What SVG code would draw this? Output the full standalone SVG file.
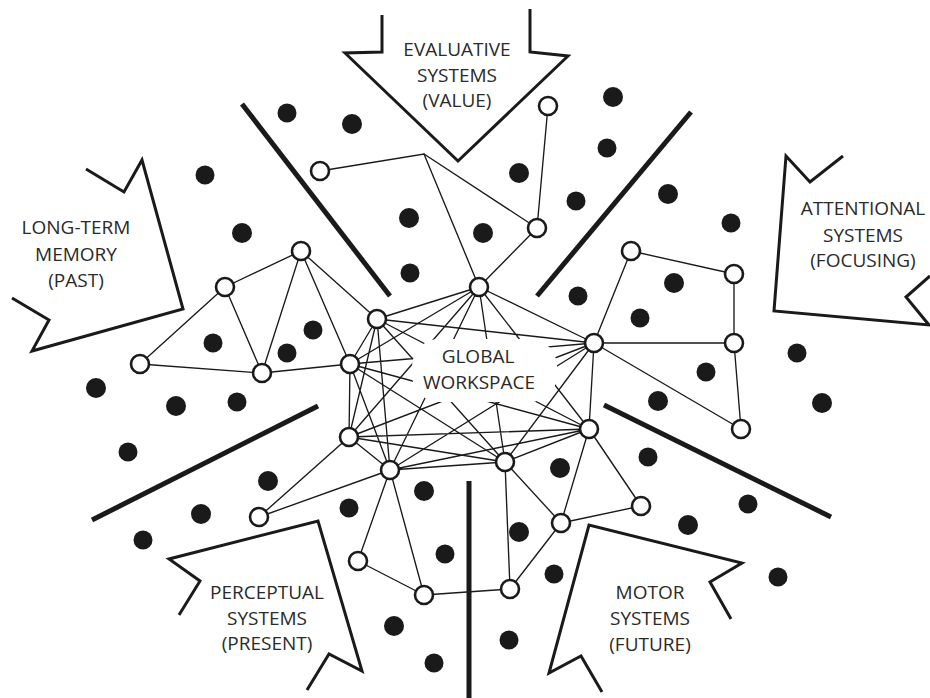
<svg xmlns="http://www.w3.org/2000/svg" width="930" height="698" viewBox="0 0 930 698">
<style>
.edge{stroke:#1a1a1a;stroke-width:1.35;fill:none;stroke-linecap:round}
.node{fill:#fff;stroke:#1a1a1a;stroke-width:2.6}
.dot{fill:#1a1a1a}
.arrow{fill:none;stroke:#1a1a1a;stroke-width:3;stroke-linejoin:miter;stroke-linecap:butt}
.bar{stroke:#1a1a1a;stroke-width:5;stroke-linecap:butt}
.lbl{font-family:"Open Sans","Noto Sans","Liberation Sans",sans-serif;font-size:19px;fill:#2a2a2a;text-anchor:middle}
</style>
<rect width="930" height="698" fill="#fff"/>
<g id="connectors">
<polyline class="edge" points="320,171 424,154 479,287"/>
<line class="edge" x1="424" y1="154" x2="537" y2="228"/>
<line class="edge" x1="548" y1="106" x2="537" y2="228"/>
<line class="edge" x1="537" y1="228" x2="479" y2="287"/>
<line class="edge" x1="140" y1="364" x2="225" y2="287"/>
<line class="edge" x1="225" y1="287" x2="301" y2="251"/>
<line class="edge" x1="225" y1="287" x2="262" y2="373"/>
<line class="edge" x1="140" y1="364" x2="262" y2="373"/>
<line class="edge" x1="262" y1="373" x2="301" y2="251"/>
<line class="edge" x1="262" y1="373" x2="350" y2="364"/>
<line class="edge" x1="301" y1="251" x2="377" y2="319"/>
<line class="edge" x1="301" y1="251" x2="350" y2="364"/>
<line class="edge" x1="594" y1="343" x2="631" y2="251"/>
<line class="edge" x1="631" y1="251" x2="734" y2="274"/>
<line class="edge" x1="734" y1="274" x2="734" y2="343"/>
<line class="edge" x1="594" y1="343" x2="734" y2="343"/>
<line class="edge" x1="734" y1="343" x2="741" y2="429"/>
<line class="edge" x1="594" y1="343" x2="741" y2="429"/>
<line class="edge" x1="259" y1="517" x2="349" y2="437"/>
<line class="edge" x1="259" y1="517" x2="390" y2="470"/>
<line class="edge" x1="390" y1="470" x2="358" y2="561"/>
<line class="edge" x1="358" y1="561" x2="424" y2="595"/>
<line class="edge" x1="390" y1="470" x2="424" y2="595"/>
<line class="edge" x1="424" y1="595" x2="510" y2="589"/>
<line class="edge" x1="510" y1="589" x2="505" y2="462"/>
<line class="edge" x1="510" y1="589" x2="561" y2="523"/>
<line class="edge" x1="505" y1="462" x2="561" y2="523"/>
<line class="edge" x1="561" y1="523" x2="589" y2="429"/>
<line class="edge" x1="561" y1="523" x2="641" y2="506"/>
<line class="edge" x1="641" y1="506" x2="589" y2="429"/>
<path class="edge" d="M479,287L377,319M479,287L350,364M479,287L594,343M479,287L349,437M479,287L390,470M479,287L505,462M479,287L589,429
M377,319L350,364M377,319L594,343M377,319L349,437M377,319L390,470M377,319L505,462M377,319L589,429
M350,364L594,343M350,364L349,437M350,364L390,470M350,364L505,462M350,364L589,429
M594,343L349,437M594,343L390,470M594,343L505,462M594,343L589,429
M349,437L390,470M349,437L505,462M349,437L589,429
M390,470L505,462M390,470L589,429
M505,462L589,429"/>
</g>
<rect id="workspace-gap" x="412" y="339" width="145" height="63" rx="27" fill="#fff"/>
<g id="hub-nodes">
<circle class="node" cx="548" cy="106" r="9"/>
<circle class="node" cx="320" cy="171" r="9"/>
<circle class="node" cx="537" cy="228" r="9"/>
<circle class="node" cx="479" cy="287" r="9"/>
<circle class="node" cx="301" cy="251" r="9"/>
<circle class="node" cx="225" cy="287" r="9"/>
<circle class="node" cx="140" cy="364" r="9"/>
<circle class="node" cx="262" cy="373" r="9"/>
<circle class="node" cx="377" cy="319" r="9"/>
<circle class="node" cx="350" cy="364" r="9"/>
<circle class="node" cx="631" cy="251" r="9"/>
<circle class="node" cx="734" cy="274" r="9"/>
<circle class="node" cx="594" cy="343" r="9"/>
<circle class="node" cx="734" cy="343" r="9"/>
<circle class="node" cx="741" cy="429" r="9"/>
<circle class="node" cx="589" cy="429" r="9"/>
<circle class="node" cx="349" cy="437" r="9"/>
<circle class="node" cx="390" cy="470" r="9"/>
<circle class="node" cx="505" cy="462" r="9"/>
<circle class="node" cx="259" cy="517" r="9"/>
<circle class="node" cx="358" cy="561" r="9"/>
<circle class="node" cx="424" cy="595" r="9"/>
<circle class="node" cx="510" cy="589" r="9"/>
<circle class="node" cx="561" cy="523" r="9"/>
<circle class="node" cx="641" cy="506" r="9"/>
</g>
<g id="dots">
<circle class="dot" cx="287" cy="113" r="9.5"/>
<circle class="dot" cx="352" cy="124" r="10"/>
<circle class="dot" cx="205" cy="175" r="9.5"/>
<circle class="dot" cx="242" cy="233" r="10"/>
<circle class="dot" cx="409" cy="218" r="10"/>
<circle class="dot" cx="483" cy="233" r="10"/>
<circle class="dot" cx="410" cy="273" r="9.5"/>
<circle class="dot" cx="519" cy="173" r="10"/>
<circle class="dot" cx="576" cy="201" r="9.5"/>
<circle class="dot" cx="613" cy="97" r="10"/>
<circle class="dot" cx="607" cy="148" r="9.5"/>
<circle class="dot" cx="668" cy="194" r="10"/>
<circle class="dot" cx="731" cy="223" r="9.5"/>
<circle class="dot" cx="578" cy="296" r="9.5"/>
<circle class="dot" cx="213" cy="343" r="9.5"/>
<circle class="dot" cx="313" cy="330" r="9.5"/>
<circle class="dot" cx="287" cy="353" r="9.5"/>
<circle class="dot" cx="96" cy="388" r="10"/>
<circle class="dot" cx="176" cy="406" r="10"/>
<circle class="dot" cx="237" cy="402" r="9.5"/>
<circle class="dot" cx="128" cy="452" r="9.5"/>
<circle class="dot" cx="268" cy="481" r="10"/>
<circle class="dot" cx="201" cy="514" r="10"/>
<circle class="dot" cx="143" cy="540" r="9.5"/>
<circle class="dot" cx="349" cy="508" r="9.5"/>
<circle class="dot" cx="424" cy="491" r="10"/>
<circle class="dot" cx="445" cy="554" r="9.5"/>
<circle class="dot" cx="394" cy="626" r="10"/>
<circle class="dot" cx="434" cy="663" r="9.5"/>
<circle class="dot" cx="509" cy="640" r="9.5"/>
<circle class="dot" cx="519" cy="532" r="10"/>
<circle class="dot" cx="554" cy="574" r="9.5"/>
<circle class="dot" cx="560" cy="468" r="10"/>
<circle class="dot" cx="674" cy="283" r="10"/>
<circle class="dot" cx="640" cy="318" r="9.5"/>
<circle class="dot" cx="706" cy="372" r="9.5"/>
<circle class="dot" cx="658" cy="401" r="10"/>
<circle class="dot" cx="797" cy="353" r="9.5"/>
<circle class="dot" cx="822" cy="403" r="10"/>
<circle class="dot" cx="648" cy="457" r="9.5"/>
<circle class="dot" cx="748" cy="504" r="9.5"/>
<circle class="dot" cx="688" cy="525" r="10"/>
<circle class="dot" cx="778" cy="577" r="9.5"/>
</g>
<g id="dividers">
<line class="bar" x1="242" y1="104" x2="390" y2="296"/>
<line class="bar" x1="537" y1="296" x2="691" y2="112"/>
<line class="bar" x1="318" y1="406" x2="92" y2="520"/>
<line class="bar" x1="604" y1="405" x2="831" y2="517"/>
<line class="bar" x1="469" y1="481" x2="469" y2="698"/>
</g>
<g id="evaluative">
<polyline class="arrow" points="382,15 382,52 345,53 458,161 568,56 530,52 530,9"/>
<text class="lbl" x="457" y="56">EVALUATIVE</text>
<text class="lbl" x="457" y="82">SYSTEMS</text>
<text class="lbl" x="457" y="107">(VALUE)</text>
</g>
<g id="long-term-memory">
<polyline class="arrow" points="86,169 124,192 142,160 183,309 32,351 49,320 12,298"/>
<text class="lbl" x="76" y="234">LONG-TERM</text>
<text class="lbl" x="76" y="261">MEMORY</text>
<text class="lbl" x="76" y="287">(PAST)</text>
</g>
<g id="attentional">
<polyline class="arrow" points="843,156 810,182 786,156 774,311 929,325 906,297 930,276"/>
<text class="lbl" x="863" y="215">ATTENTIONAL</text>
<text class="lbl" x="863" y="242">SYSTEMS</text>
<text class="lbl" x="863" y="267">(FOCUSING)</text>
</g>
<g id="perceptual">
<polyline class="arrow" points="179,615 200,581 169,559 318,521 362,671 329,654 307,690"/>
<text class="lbl" x="267" y="599">PERCEPTUAL</text>
<text class="lbl" x="267" y="625">SYSTEMS</text>
<text class="lbl" x="267" y="650">(PRESENT)</text>
</g>
<g id="motor">
<polyline class="arrow" points="731,619 710,582 742,563 589,525 549,673 581,656 602,692"/>
<text class="lbl" x="650" y="599">MOTOR</text>
<text class="lbl" x="650" y="625">SYSTEMS</text>
<text class="lbl" x="650" y="651">(FUTURE)</text>
</g>
<g id="global-workspace">
<text class="lbl" x="478" y="363">GLOBAL</text>
<text class="lbl" x="479" y="389">WORKSPACE</text>
</g>
</svg>
